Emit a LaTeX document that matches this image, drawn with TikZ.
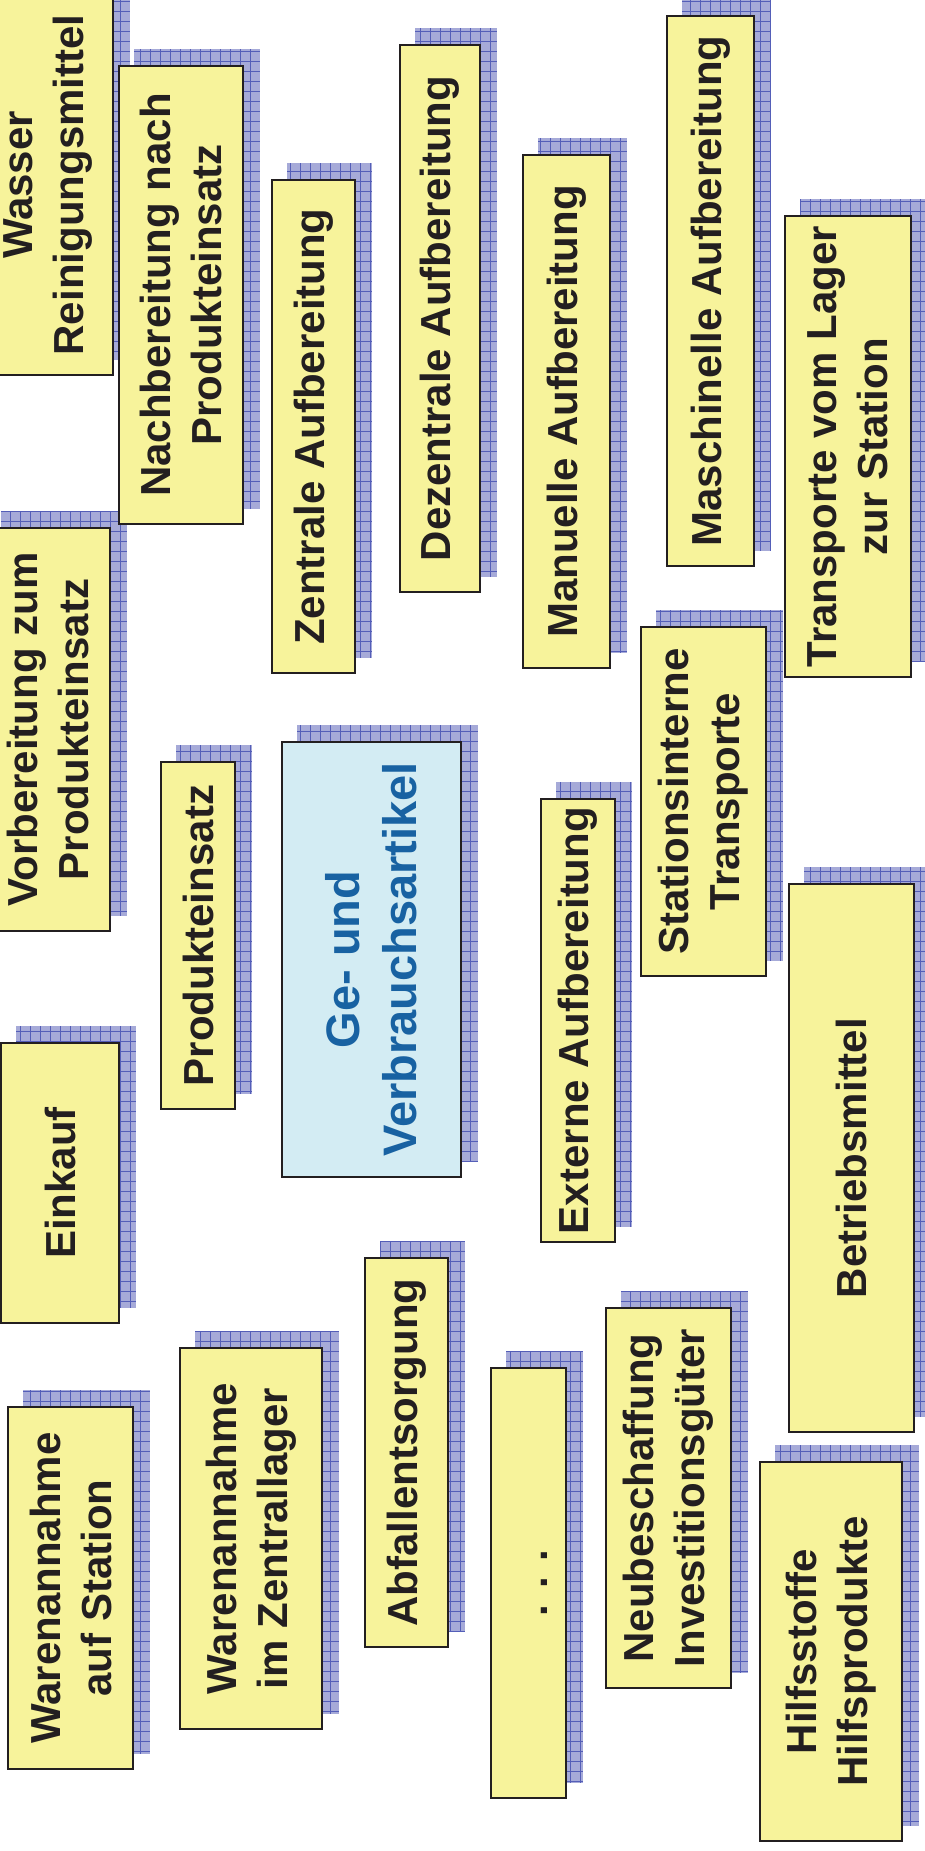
\documentclass[tikz,border=0pt]{standalone}
\usepackage{fontspec}
\setmainfont{Liberation Sans}
\usepackage{tikz}
\usetikzlibrary{patterns.meta, backgrounds}

\definecolor{boxyellow}{RGB}{247,243,155}
\definecolor{boxblue}{RGB}{211,236,243}
\definecolor{titleblue}{RGB}{24,98,162}
\definecolor{shadowfill}{RGB}{166,170,216}
\definecolor{gridblue}{RGB}{84,94,184}
\definecolor{inkblack}{RGB}{35,31,32}

\begin{document}
\begin{tikzpicture}[x=1pt, y=-1pt,
  card/.style={draw=inkblack, line width=1.6pt, fill=boxyellow, rotate=90, inner sep=0pt,
    align=center, text=inkblack, font=\bfseries\fontsize{42}{51}\selectfont},
  maincard/.style={card, fill=boxblue, text=titleblue, font=\bfseries\fontsize{47}{57}\selectfont},
  shadowbox/.style={fill=shadowfill, postaction={pattern={Hatch[distance=10pt, angle=0, line width=0.6pt]}, pattern color=gridblue}}]
\useasboundingbox (0,0) rectangle (925,1851);

% Central item
\node[maincard, minimum width=435pt, minimum height=179pt] (artikel) at (371.5,959.5) {Ge- und\\Verbrauchsartikel};

% Top row
\node[card, minimum width=380pt, minimum height=130pt] (wasser) at (48,185) {Wasser\\Reinigungsmittel};
\node[card, minimum width=458pt, minimum height=124pt] (nachbereitung) at (181,295) {Nachbereitung nach\\Produkteinsatz};
\node[card, minimum width=493pt, minimum height=83pt] (zentral) at (313.5,426.5) {Zentrale Aufbereitung};
\node[card, minimum width=547pt, minimum height=80pt] (dezentral) at (440,318.5) {Dezentrale Aufbereitung};
\node[card, minimum width=513pt, minimum height=87pt] (manuell) at (566.5,411.5) {Manuelle Aufbereitung};
\node[card, minimum width=550pt, minimum height=87pt] (maschinell) at (710.5,291) {Maschinelle Aufbereitung};
\node[card, minimum width=461pt, minimum height=126pt] (lagertransport) at (848,446.5) {Transporte vom Lager\\zur Station};

% Middle row
\node[card, minimum width=403pt, minimum height=124pt] (vorbereitung) at (48,729.5) {Vorbereitung zum\\Produkteinsatz};
\node[card, minimum width=347pt, minimum height=74pt] (einsatz) at (198,935.5) {Produkteinsatz};
\node[card, minimum width=443pt, minimum height=74pt] (extern) at (578,1020.5) {Externe Aufbereitung};
\node[card, minimum width=349pt, minimum height=125pt] (intern) at (703.5,801.5) {Stationsinterne\\Transporte};
\node[card, minimum width=280pt, minimum height=118pt] (einkauf) at (60,1183) {Einkauf};
\node[card, minimum width=548pt, minimum height=125pt] (betrieb) at (851.5,1158) {Betriebsmittel};

% Bottom row
\node[card, minimum width=362pt, minimum height=125pt] (annahmestation) at (70.5,1588) {Warenannahme\\auf Station};
\node[card, minimum width=381pt, minimum height=142pt] (annahmelager) at (251,1538.5) {Warenannahme\\im Zentrallager};
\node[card, minimum width=389pt, minimum height=83pt] (abfall) at (406.5,1452.5) {Abfallentsorgung};
\node[card, minimum width=430pt, minimum height=75pt] (weitere) at (528.5,1583) {\smash{\raisebox{-19pt}{. . .}}};
\node[card, minimum width=380pt, minimum height=125pt] (neubeschaffung) at (668.5,1498) {Neubeschaffung\\Investitionsgüter};
\node[card, minimum width=379pt, minimum height=142pt] (hilfsstoffe) at (831,1651.5) {Hilfsstoffe\\Hilfsprodukte};

% Shadows
\begin{scope}[on background layer]
\foreach \n in {artikel, wasser, nachbereitung, zentral, dezentral, manuell, maschinell,
    lagertransport, vorbereitung, einsatz, extern, intern, einkauf, betrieb,
    annahmestation, annahmelager, abfall, weitere, neubeschaffung, hilfsstoffe}
  \path[shadowbox] ([shift={(16pt,16pt)}]\n.south west) rectangle ([shift={(16pt,16pt)}]\n.north east);
\end{scope}
\end{tikzpicture}
\end{document}
